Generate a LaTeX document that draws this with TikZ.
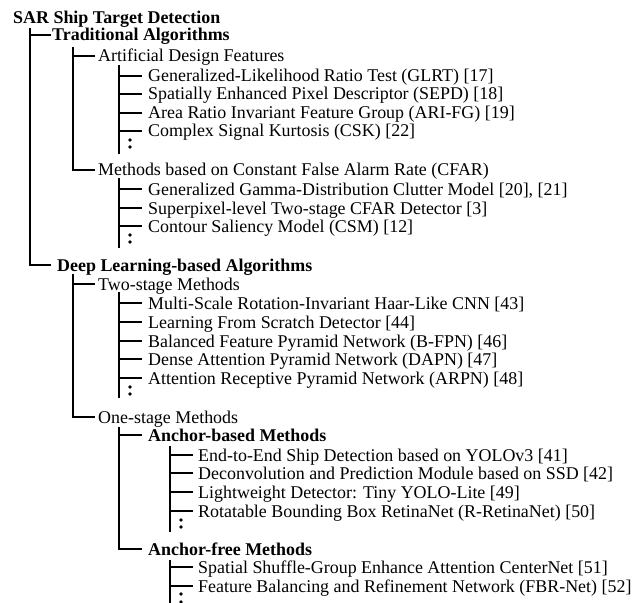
\documentclass[tikz,border=0pt]{standalone}
\usepackage{fontspec}
\setmainfont{Liberation Serif}
\begin{document}
\begin{tikzpicture}[x=1bp,y=-1bp,
  txt/.style={anchor=west, inner sep=0pt, text height=12bp, text depth=0pt, font={\fontsize{18}{20}\selectfont}},
  btxt/.style={txt, font={\fontsize{18}{20}\selectfont\bfseries}},
  conn/.style={line width=2bp, line cap=rect},
  dotm/.style={fill=black}]
\useasboundingbox (0,0) rectangle (634,603);
% nodes
\node[btxt] (root) at (13,18) {SAR Ship Target Detection};
\node[btxt] (trad) at (52,35) {Traditional Algorithms};
\node[txt] (adf) at (98,56) {Artificial Design Features};
\node[txt] (glrt) at (148,76) {Generalized-Likelihood Ratio Test (GLRT) [17]};
\node[txt] (sepd) at (148,94) {Spatially Enhanced Pixel Descriptor (SEPD) [18]};
\node[txt] (arifg) at (148,113) {Area Ratio Invariant Feature Group (ARI-FG) [19]};
\node[txt] (csk) at (148,131) {Complex Signal Kurtosis (CSK) [22]};
\node[txt] (cfar) at (98,170) {Methods based on Constant False Alarm Rate (CFAR)};
\node[txt] (gamma) at (148,189) {Generalized Gamma-Distribution Clutter Model [20], [21]};
\node[txt] (spix) at (148,208) {Superpixel-level Two-stage CFAR Detector [3]};
\node[txt] (csm) at (148,226) {Contour Saliency Model (CSM) [12]};
\node[btxt] (deep) at (57,265) {Deep Learning-based Algorithms};
\node[txt] (two) at (98,284) {Two-stage Methods};
\node[txt] (msr) at (148,303) {Multi-Scale Rotation-Invariant Haar-Like CNN [43]};
\node[txt] (lfs) at (148,322) {Learning From Scratch Detector [44]};
\node[txt] (bfpn) at (148,341) {Balanced Feature Pyramid Network (B-FPN) [46]};
\node[txt] (dapn) at (148,359) {Dense Attention Pyramid Network (DAPN) [47]};
\node[txt] (arpn) at (148,378) {Attention Receptive Pyramid Network (ARPN) [48]};
\node[txt] (one) at (98,417) {One-stage Methods};
\node[btxt] (ab) at (148,435) {Anchor-based Methods};
\node[txt] (e2e) at (198,455) {End-to-End Ship Detection based on YOLOv3 [41]};
\node[txt] (dpm) at (198,473) {Deconvolution and Prediction Module based on SSD [42]};
\node[txt] (lwd) at (198,492) {Lightweight Detector: Tiny YOLO-Lite [49]};
\node[txt] (rret) at (198,511) {Rotatable Bounding Box RetinaNet (R-RetinaNet) [50]};
\node[btxt] (af) at (148,549) {Anchor-free Methods};
\node[txt] (ssg) at (198,567) {Spatial Shuffle-Group Enhance Attention CenterNet [51]};
\node[txt] (fbr) at (198,586) {Feature Balancing and Refinement Network (FBR-Net) [52]};
% level 1
\coordinate (v0) at (30,29);
\draw[conn] (v0) |- ([xshift=-2bp]trad.west);
\draw[conn] (v0) |- ([xshift=-7bp]deep.west);
% traditional children
\coordinate (v1) at (73,48);
\draw[conn] (v1) |- ([xshift=-4bp]adf.west);
\draw[conn] (v1) |- ([xshift=-4bp]cfar.west);
% artificial design features
\coordinate (v2) at (119,66);
\coordinate (v2e) at (119,153);
\draw[conn] (v2) -- (v2e);
\foreach \n in {glrt,sepd,arifg,csk} \draw[conn] (v2 |- \n.west) -- ([xshift=-7bp]\n.west);
\fill[dotm] (v2 |- csk.west) ++(11,9) circle (1.8);
\fill[dotm] (v2 |- csk.west) ++(11,16) circle (1.8);
% cfar
\coordinate (v3) at (119,179);
\coordinate (v3e) at (119,247);
\draw[conn] (v3) -- (v3e);
\foreach \n in {gamma,spix,csm} \draw[conn] (v3 |- \n.west) -- ([xshift=-7bp]\n.west);
\fill[dotm] (v3 |- csm.west) ++(11,9) circle (1.8);
\fill[dotm] (v3 |- csm.west) ++(11,16) circle (1.8);
% deep children
\coordinate (v4) at (73,275);
\draw[conn] (v4) |- ([xshift=-4bp]two.west);
\draw[conn] (v4) |- ([xshift=-4bp]one.west);
% two-stage
\coordinate (v5) at (119,293);
\coordinate (v5e) at (119,397);
\draw[conn] (v5) -- (v5e);
\foreach \n in {msr,lfs,bfpn,dapn,arpn} \draw[conn] (v5 |- \n.west) -- ([xshift=-7bp]\n.west);
\fill[dotm] (v5 |- arpn.west) ++(11,9) circle (1.8);
\fill[dotm] (v5 |- arpn.west) ++(11,16) circle (1.8);
% one-stage
\coordinate (v6) at (119,428);
\draw[conn] (v6) |- ([xshift=-7bp]ab.west);
\draw[conn] (v6) |- ([xshift=-7bp]af.west);
% anchor-based
\coordinate (v7) at (170,447);
\coordinate (v7e) at (170,531);
\draw[conn] (v7) -- (v7e);
\foreach \n in {e2e,dpm,lwd,rret} \draw[conn] (v7 |- \n.west) -- ([xshift=-6bp]\n.west);
\fill[dotm] (v7 |- rret.west) ++(11,9) circle (1.8);
\fill[dotm] (v7 |- rret.west) ++(11,16) circle (1.8);
% anchor-free
\coordinate (v8) at (170,561);
\coordinate (v8e) at (170,603);
\draw[conn] (v8) -- (v8e);
\foreach \n in {ssg,fbr} \draw[conn] (v8 |- \n.west) -- ([xshift=-6bp]\n.west);
\fill[dotm] (v8 |- fbr.west) ++(11,8) circle (1.8);
\fill[dotm] (v8 |- fbr.west) ++(11,16) circle (1.8);
\end{tikzpicture}
\end{document}
